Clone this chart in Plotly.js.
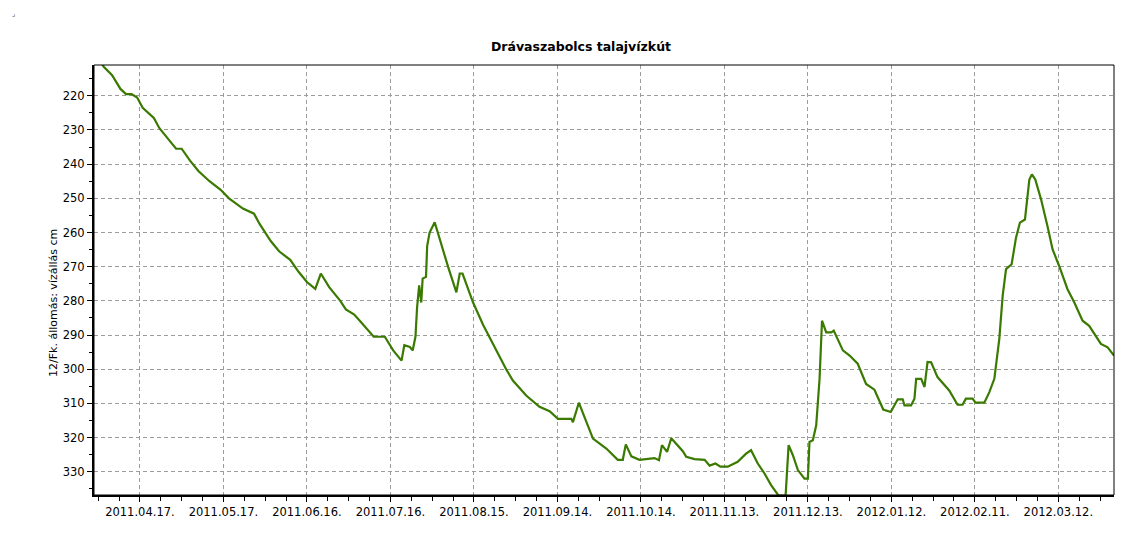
<!DOCTYPE html>
<html>
<head>
<meta charset="utf-8">
<script src="https://cdn.plot.ly/plotly-3.0.1.min.js"></script>
<style>
  html, body { margin: 0; padding: 0; background: #ffffff; }
  #chart { width: 1135px; height: 559px; }
</style>
</head>
<body>
<div id="chart"></div>
<script>
// ---- Data ----
const chartTitle = "Drávaszabolcs talajvízkút";
const yTitle = "12/Fk. állomás: vízállás cm";

const dates = [
  "2011-04-02", "2011-04-04", "2011-04-07", "2011-04-10", "2011-04-12", "2011-04-14",
  "2011-04-16", "2011-04-18", "2011-04-22", "2011-04-24", "2011-04-28", "2011-04-30",
  "2011-05-02", "2011-05-05", "2011-05-08", "2011-05-12", "2011-05-16", "2011-05-19",
  "2011-05-24", "2011-05-28", "2011-05-30", "2011-06-03", "2011-06-06", "2011-06-10",
  "2011-06-13", "2011-06-16", "2011-06-19", "2011-06-21", "2011-06-24", "2011-06-28",
  "2011-06-30", "2011-07-03", "2011-07-05", "2011-07-10", "2011-07-14", "2011-07-17",
  "2011-07-20", "2011-07-21", "2011-07-23", "2011-07-24", "2011-07-25", "2011-07-25 14:00",
  "2011-07-26 08:00", "2011-07-27 02:00", "2011-07-27 14:00", "2011-07-28 19:00", "2011-07-29 05:00", "2011-07-30 02:00",
  "2011-07-31 22:00", "2011-08-02 17:00", "2011-08-05 17:00", "2011-08-08 17:00", "2011-08-09 22:00", "2011-08-10 22:00",
  "2011-08-14 17:00", "2011-08-18 07:00", "2011-08-22", "2011-08-26 14:00", "2011-08-29", "2011-09-02 19:00",
  "2011-09-07 14:00", "2011-09-11 05:00", "2011-09-14 05:00", "2011-09-19", "2011-09-19 14:00", "2011-09-21 17:00",
  "2011-09-24 10:00", "2011-09-26 19:00", "2011-10-01 14:00", "2011-10-05 17:00", "2011-10-07 12:00", "2011-10-08 14:00",
  "2011-10-10 14:00", "2011-10-13 12:00", "2011-10-18 22:00", "2011-10-20 12:00", "2011-10-21 14:00", "2011-10-23 10:00",
  "2011-10-24 22:00", "2011-10-29 02:00", "2011-10-30 07:00", "2011-11-02 07:00", "2011-11-05 22:00", "2011-11-07 17:00",
  "2011-11-09 19:00", "2011-11-11 14:00", "2011-11-14 05:00", "2011-11-17 19:00", "2011-11-20 19:00", "2011-11-22 14:00",
  "2011-11-25", "2011-11-27 10:00", "2011-11-29 19:00", "2011-12-01 14:00", "2011-12-02 12:00", "2011-12-05",
  "2011-12-06 02:00", "2011-12-07 14:00", "2011-12-09 10:00", "2011-12-11 19:00", "2011-12-13", "2011-12-13 14:00",
  "2011-12-14 19:00", "2011-12-16", "2011-12-17 05:00", "2011-12-18 02:00", "2011-12-19 14:00", "2011-12-21 10:00",
  "2011-12-22 07:00", "2011-12-25 14:00", "2011-12-28", "2011-12-30 22:00", "2012-01-02 22:00", "2012-01-05 22:00",
  "2012-01-09 02:00", "2012-01-11 19:00", "2012-01-14 07:00", "2012-01-16 02:00", "2012-01-16 17:00", "2012-01-19 02:00",
  "2012-01-20 07:00", "2012-01-20 22:00", "2012-01-22 17:00", "2012-01-23 22:00", "2012-01-25", "2012-01-26 07:00",
  "2012-01-28 14:00", "2012-02-01 19:00", "2012-02-04 19:00", "2012-02-06 14:00", "2012-02-07 19:00", "2012-02-10 05:00",
  "2012-02-11 05:00", "2012-02-14 10:00", "2012-02-16 05:00", "2012-02-18", "2012-02-19 19:00", "2012-02-21",
  "2012-02-22 05:00", "2012-02-24 05:00", "2012-02-25 19:00", "2012-02-27 05:00", "2012-02-29", "2012-03-01 14:00",
  "2012-03-02 12:00", "2012-03-03 17:00", "2012-03-05 19:00", "2012-03-08 02:00", "2012-03-09 22:00", "2012-03-12 07:00",
  "2012-03-15 07:00", "2012-03-17 17:00", "2012-03-20 17:00", "2012-03-23 02:00", "2012-03-25 12:00", "2012-03-27 07:00",
  "2012-03-29 17:00", "2012-03-31 12:00", "2012-04-01"
];

const levels = [
  209, 211.5, 214, 218, 219.5, 219.5,
  220.5, 223.5, 226.5, 229.5, 233.5, 235.5,
  235.5, 239, 242, 245, 247.5, 250,
  253, 254.5, 257.5, 262.5, 265.5, 268,
  271.5, 274.5, 276.5, 272, 276, 280,
  282.5, 284, 285.8, 290.5, 290.5, 294.5,
  297.5, 293, 293.5, 294.5, 290.5, 282,
  275.5, 280.5, 273.5, 273, 264, 260,
  257, 262, 270, 277.5, 272, 272,
  280.5, 287, 293, 300, 303.3, 307.7,
  311, 312.3, 314.5, 314.5, 315.5, 309.8,
  315.4, 320.3, 323.2, 326.5, 326.5, 322,
  325.5, 326.5, 326, 326.6, 322.2, 324.2,
  320.2, 324, 325.6, 326.3, 326.5, 328.2,
  327.6, 328.5, 328.5, 327.1, 324.7, 323.7,
  327.6, 330.5, 333.9, 335.9, 337, 337,
  322.2, 325.1, 329.5, 332, 332, 321.3,
  320.8, 316.4, 302.8, 285.8, 289.2, 289.2,
  288.7, 294.5, 296, 298.4, 304.3, 306,
  311.8, 312.5, 308.8, 308.8, 310.6, 310.6,
  308.6, 302.8, 302.8, 305.2, 297.9, 298,
  302.3, 306.2, 310.4, 310.4, 308.6, 308.6,
  309.8, 309.8, 306.7, 302.8, 291.1, 278.5,
  270.7, 269.3, 261.5, 257.1, 256.2, 244.5,
  243, 244.5, 250.3, 258.1, 264.9, 269.8,
  276.6, 280.4, 285.8, 287.3, 290.2, 292.6,
  293.6, 295.5, 296
];

const xRange = ["2011-03-31 12:00", "2012-04-01"];
const yRange = [336.8, 211];
const xTickStart = "2011-04-17";

// ---- Chart ----
const DAY = 86400000;
const tickFont = { family: "DejaVu Sans, Liberation Sans, sans-serif", size: 11.5, color: "#000000" };
const gridColor = "#9c9c9c";
const gridDash = "4px,3px";

const trace = {
  x: dates,
  y: levels,
  type: "scatter",
  mode: "lines",
  line: { color: "rgb(58,122,0)", width: 2.2 },
  hoverinfo: "x+y"
};

const layout = {
  width: 1135,
  height: 559,
  margin: { l: 94, r: 21, t: 65, b: 64 },
  paper_bgcolor: "#ffffff",
  plot_bgcolor: "#ffffff",
  showlegend: false,
  title: {
    text: "<b>" + chartTitle + "</b>",
    font: { family: "DejaVu Sans, Liberation Sans, sans-serif", size: 12.5, color: "#000000" },
    x: 581 / 1135,
    xanchor: "center",
    xref: "container",
    y: 1 - 47 / 559,
    yanchor: "middle",
    yref: "container"
  },
  xaxis: {
    type: "date",
    range: xRange,
    tick0: xTickStart,
    dtick: 30 * DAY,
    tickformat: "%Y.%m.%d.",
    tickfont: tickFont,
    ticks: "outside",
    ticklen: 5,
    tickcolor: "#000000",
    showgrid: true,
    gridcolor: gridColor,
    gridwidth: 1,
    griddash: gridDash,
    showline: true,
    linecolor: "#000000",
    linewidth: 2,
    zeroline: false,
    minor: { dtick: 7.5 * DAY, tick0: xTickStart, ticks: "outside", ticklen: 4, tickcolor: "#000000", showgrid: false },
    fixedrange: true
  },
  yaxis: {
    range: yRange,
    tick0: 0,
    dtick: 10,
    tickfont: tickFont,
    ticks: "outside",
    ticklen: 5,
    tickcolor: "#000000",
    showgrid: true,
    gridcolor: gridColor,
    gridwidth: 1,
    griddash: gridDash,
    showline: true,
    linecolor: "#000000",
    linewidth: 2,
    zeroline: false,
    minor: { dtick: 5, tick0: 0, ticks: "outside", ticklen: 3, tickcolor: "#000000", showgrid: false },
    fixedrange: true
  },
  shapes: [
    {
      type: "rect", xref: "paper", yref: "paper", x0: 0, x1: 1, y0: 0, y1: 1,
      line: { color: "#000000", width: 1 }, fillcolor: "rgba(0,0,0,0)", layer: "above"
    }
  ],
  annotations: [
    {
      text: yTitle,
      xref: "paper", yref: "paper",
      x: (53 - 94) / 1020, y: (495 - 303) / 430,
      xanchor: "center", yanchor: "middle",
      textangle: -90,
      showarrow: false,
      font: { family: "DejaVu Sans, Liberation Sans, sans-serif", size: 11, color: "#000000" }
    },
    {
      text: "⌟",
      xref: "paper", yref: "paper",
      x: (13 - 94) / 1020, y: (495 - 14) / 430,
      xanchor: "center", yanchor: "middle",
      showarrow: false,
      font: { family: "DejaVu Sans, sans-serif", size: 7, color: "#333333" }
    }
  ]
};

Plotly.newPlot("chart", [trace], layout, { staticPlot: true, displayModeBar: false });
</script>
</body>
</html>
